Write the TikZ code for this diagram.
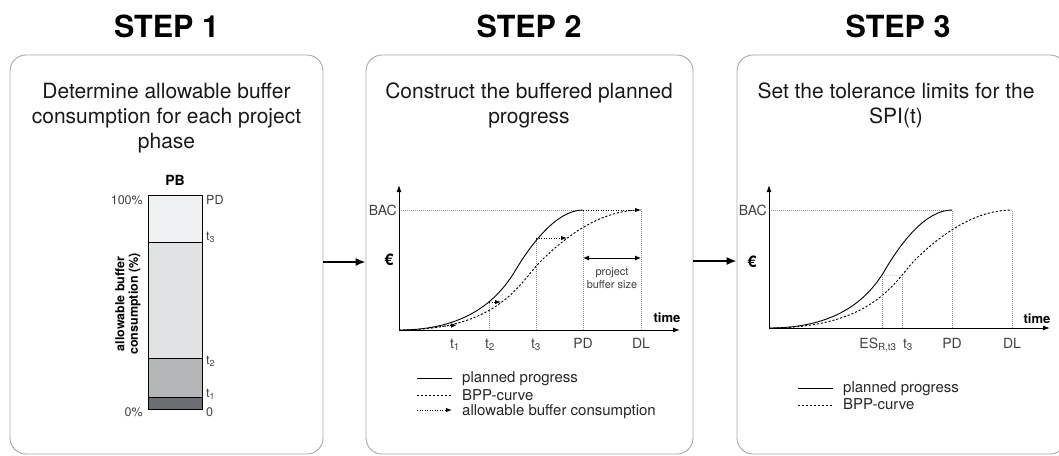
\documentclass[tikz,border=0pt]{standalone}
\usepackage{fontspec}
\setmainfont{TeX Gyre Heros}
\usetikzlibrary{arrows.meta,intersections}

\definecolor{framegray}{HTML}{A7A9AC}
\definecolor{textgray}{HTML}{414042}
\definecolor{guidegray}{HTML}{939598}
\definecolor{pbtop}{HTML}{EFF0F1}
\definecolor{pbmid}{HTML}{E1E2E3}
\definecolor{pblow}{HTML}{B5B6B8}
\definecolor{pbbase}{HTML}{6D6E71}

\tikzset{
  panel/.style={draw=framegray,line width=0.9pt,rounded corners=16pt},
  steptitle/.style={font=\fontsize{30.5}{34}\selectfont\bfseries,anchor=base,inner sep=0pt},
  task/.style={font=\fontsize{21}{25}\selectfont,align=center,anchor=north,inner sep=0pt,text=black!90},
  lbl/.style={font=\fontsize{14}{16}\selectfont,text=textgray,inner sep=0pt},
  barlbl/.style={font=\fontsize{12.5}{14}\selectfont,text=textgray,inner sep=0pt},
  legend/.style={font=\fontsize{15}{17}\selectfont,text=black!85,inner sep=0pt,anchor=base west},
  axis/.style={line width=1pt,-{Latex[length=7pt,width=5pt]}},
  guide/.style={guidegray,line width=0.5pt,dash pattern=on 1pt off 1pt},
  plan/.style={line width=0.9pt},
  bpp/.style={line width=0.9pt,dash pattern=on 2.2pt off 1.8pt},
  consume/.style={line width=0.9pt,dash pattern=on 0.9pt off 1.6pt,-{Latex[length=6pt,width=4.5pt]}},
  flow/.style={line width=1.6pt,-{Latex[length=10pt,width=8pt]}},
  timelbl/.style={font=\fontsize{13}{15}\selectfont\bfseries,anchor=base,inner sep=0pt},
  eurlbl/.style={font=\fontsize{16}{18}\selectfont\bfseries,inner sep=0pt},
}

\begin{document}
\begin{tikzpicture}[x=1pt,y=-1pt]
\path[use as bounding box] (0,0) rectangle (1059,455);
\clip (0,0) rectangle (1059,455);

\node[panel,minimum width=313pt,minimum height=399pt] (box1) at (166.5,254.5) {};
\node[panel,minimum width=327pt,minimum height=399pt] (box2) at (529.5,254.5) {};
\node[panel,minimum width=329pt,minimum height=399pt] (box3) at (901.5,254.5) {};

\draw[flow] ([yshift=-7.5pt]box1.east) -- ([yshift=-7.5pt]box2.west);
\draw[flow] ([yshift=-6.5pt]box2.east) -- ([yshift=-6.5pt]box3.west);

\node[steptitle] (step1) at (166.5,37) {STEP 1};
\node[steptitle] (step2) at (529,37) {STEP 2};
\node[steptitle] (step3) at (898,37) {STEP 3};

\node[task] (task1) at (166.5,82.8) {Determine allowable buffer\\consumption for each project\\phase};
\node[task] (task2) at (529,82.8) {Construct the buffered planned\\progress};
\node[task] (task3) at (896,82.8) {Set the tolerance limits for the\\SPI(t)};

% step 1: project buffer bar
\foreach \top/\bot/\c in {195/242/pbtop,242/358/pbmid,358/397/pblow,397/409/pbbase}{
    \filldraw[fill=\c,line width=0.8pt] (148,\top) rectangle (202,\bot);
}
\node[font=\fontsize{14}{16}\selectfont\bfseries,anchor=base,inner sep=0pt] (pbhead) at (175,185) {PB};
\foreach \y/\t [count=\i] in {204/PD,240/t\textsubscript{3},364/t\textsubscript{2},397/t\textsubscript{1},416/0}{
    \node[barlbl,anchor=base west] (pbt\i) at (206,\y) {\t};
}
\node[barlbl,anchor=base east] (pbfull) at (143,204) {100\%};
\node[barlbl,anchor=base east] (pbzero) at (143,416) {0\%};
\node[font=\fontsize{12.5}{13.5}\selectfont\bfseries,rotate=90,align=center,inner sep=0pt] (pbaxis) at (128,304) {allowable buffer\\consumption (\%)};

% step 2: buffered planned progress
\coordinate (o2) at (399,330);
\draw[guide] (399,210) -- (583,210);
\foreach \x/\y in {489/302,536/239,583/210,641/210}{
    \draw[guide] (\x,330) -- (\x,\y);
}
\draw[axis] (o2) -- (399,185);
\draw[axis] (o2) -- (680,330);
\draw[plan] (o2) .. controls (465,330) and (497,301) .. (515,271) .. controls (530,246) and (556,210) .. (583,210);
\draw[bpp] (o2) .. controls (500,330) and (520,282) .. (540,262) .. controls (565,237) and (600,210) .. (641,210);
\draw[consume] (430,327.5) -- (457,325);
\draw[consume] (489,302) -- (501,302);
\draw[consume] (536,238) -- (567,238);
\draw[consume] (583,210) -- (641,210);
\draw[line width=1pt,{Latex[length=6pt,width=5pt]}-{Latex[length=6pt,width=5pt]}] (583,258) -- (641,258);
\node[font=\fontsize{11}{13}\selectfont,text=textgray,align=center,inner sep=0pt] (bufsize) at (612,278) {project\\buffer size};

\node[lbl,anchor=east] (bac2) at (397,210) {BAC};
\node[eurlbl] (eur2) at (389,260) {€};
\node[timelbl] (time2) at (667,322) {time};
\foreach \x/\t [count=\i] in {455/t\textsubscript{1},490/t\textsubscript{2},536/t\textsubscript{3},583/PD,641/DL}{
    \node[lbl,anchor=base] (tick2\i) at (\x,348) {\t};
}

\draw[plan] (417,378) -- (452,378);
\node[legend] (leg2a) at (462,382) {planned progress};
\draw[bpp] (417,395) -- (452,395);
\node[legend] (leg2b) at (462,400) {BPP-curve};
\draw[consume] (417,410) -- (452,410);
\node[legend] (leg2c) at (462,415) {allowable buffer consumption};

% step 3: tolerance limits
\coordinate (o3) at (769,328);
\draw[guide] (769,210) -- (952,210);
\draw[guide] (952,328) -- (952,210);
\draw[guide] (1012,328) -- (1012,210);
\draw[axis] (o3) -- (769,185);
\draw[axis] (o3) -- (1050,328);
\draw[plan,name path=plan3] (o3) .. controls (835,328) and (867,300.6) .. (885,270) .. controls (900,244.5) and (925,210) .. (952,210);
\draw[bpp,name path=bpp3] (o3) .. controls (875,328) and (895,280) .. (915,260) .. controls (940,235) and (975,210) .. (1012,210);
\path[name path=level3] (769,275) -- (1012,275);
\path[name intersections={of=plan3 and level3,by=es3}];
\path[name intersections={of=bpp3 and level3,by=tt3}];
\draw[guide] (es3) -- (tt3);
\draw[guide] (es3) -- (es3 |- o3);
\draw[guide] (tt3) -- (tt3 |- o3);

\node[lbl,anchor=east] (bac3) at (767,210) {BAC};
\node[eurlbl] (eur3) at (752,262) {€};
\node[timelbl] (time3) at (1037,323) {time};
\node[lbl,anchor=base] (tick31) at (878,348) {ES\textsubscript{R,t3}};
\node[lbl,anchor=base] (tick32) at (908,348) {t\textsubscript{3}};
\node[lbl,anchor=base] (tick33) at (952,348) {PD};
\node[lbl,anchor=base] (tick34) at (1012,348) {DL};

\draw[plan] (798,388) -- (833,388);
\node[legend] (leg3a) at (843,392) {planned progress};
\draw[bpp] (798,405) -- (833,405);
\node[legend] (leg3b) at (843,409) {BPP-curve};
\end{tikzpicture}
\end{document}
